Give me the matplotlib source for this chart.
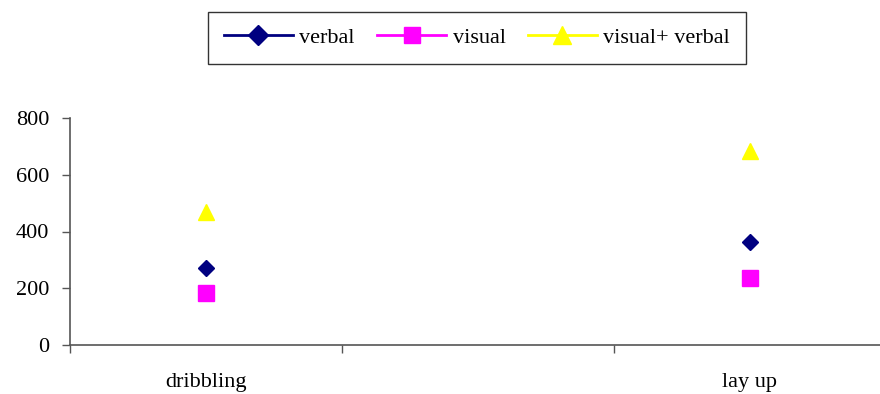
import numpy as np
import matplotlib
matplotlib.use("Agg")
import matplotlib.pyplot as plt
from matplotlib.lines import Line2D

categories = ["dribbling", "", "lay up"]
verbal = [271, None, 363]
visual = [183, None, 236]
visual_verbal = [468, None, 683]

plt.rcParams['font.family'] = ['Liberation Serif', 'DejaVu Serif']

fig = plt.figure(figsize=(8.8, 3.94), dpi=100)
ax = fig.add_axes([70 / 880, 49 / 394, 816 / 880, 227 / 394])

x = np.arange(len(categories))


def pts(vals):
    xs = [xi for xi, v in zip(x, vals) if v is not None]
    ys = [v for v in vals if v is not None]
    return xs, ys


xs, ys = pts(verbal)
ax.plot(xs, ys, linestyle='none', marker='D', color='#000080', markersize=8)
xs, ys = pts(visual)
ax.plot(xs, ys, linestyle='none', marker='s', color='#FF00FF', markersize=11)
xs, ys = pts(visual_verbal)
ax.plot(xs, ys, linestyle='none', marker='^', color='#FFFF00', markersize=12)

ax.set_xlim(-0.5, len(categories) - 0.5)
ax.set_ylim(0, 800)
ax.set_yticks([0, 200, 400, 600, 800])
ax.tick_params(axis='y', direction='out', length=6, width=1, labelsize=16, pad=9, color='#555555')

ax.set_xticks(np.arange(-0.5, len(categories), 1.0))
ax.set_xticklabels([])
ax.set_xticks(x, minor=True)
ax.set_xticklabels(categories, minor=True)
ax.tick_params(axis='x', which='major', direction='out', length=6, width=1, color='#555555')
ax.tick_params(axis='x', which='minor', length=0, labelsize=16, pad=20)

for s in ['top', 'right']:
    ax.spines[s].set_visible(False)
for s in ['left', 'bottom']:
    ax.spines[s].set_color('#555555')
    ax.spines[s].set_linewidth(1.2)

handles = [
    Line2D([], [], color='#000080', lw=2, marker='D', markersize=10),
    Line2D([], [], color='#FF00FF', lw=2, marker='s', markersize=12),
    Line2D([], [], color='#FFFF00', lw=2, marker='^', markersize=13),
]
leg = fig.legend(handles, ['verbal', 'visual', 'visual+ verbal'], loc='center',
                 bbox_to_anchor=(477 / 880, 1 - 38 / 394), ncol=3, frameon=True,
                 fancybox=False, edgecolor='black', fontsize=16, handlelength=3.1,
                 columnspacing=1.0, handletextpad=0.3, borderpad=0.7)
leg.get_frame().set_linewidth(1)

fig.savefig('out.png', dpi=100)
